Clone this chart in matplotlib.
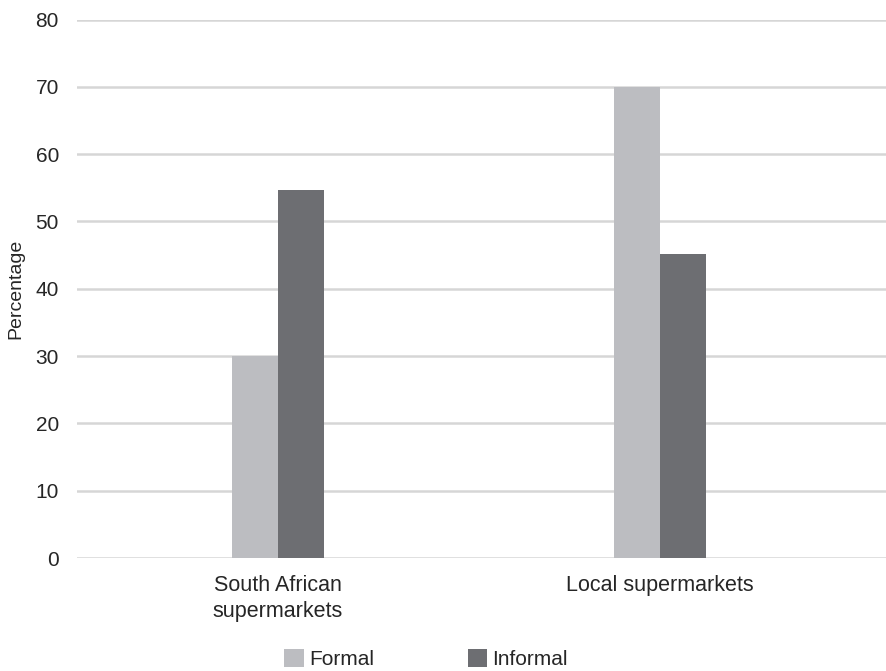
import matplotlib
matplotlib.use("Agg")
import matplotlib.pyplot as plt
import numpy as np

# data
categories = ["South African\nsupermarkets", "Local supermarkets"]
formal = [30, 70]
informal = [54.7, 45.2]
yticks = [0, 10, 20, 30, 40, 50, 60, 70, 80]

c_formal = "#bcbdc1"
c_informal = "#6d6e72"
txt = "#262626"

plt.rcParams["font.family"] = ["Liberation Sans", "DejaVu Sans"]

fig = plt.figure(figsize=(8.86, 6.71), dpi=100)
ax = fig.add_axes([77 / 886, 113 / 671, 809 / 886, 538.5 / 671])

x = np.arange(len(categories))
w = 0.12
ax.bar(x - w / 2, formal, w, color=c_formal, label="Formal", zorder=3)
ax.bar(x + w / 2, informal, w, color=c_informal, label="Informal", zorder=3)

ax.set_xlim(-0.526, 1.592)
ax.set_ylim(0, 80)
ax.set_yticks(yticks)
ax.set_xticks(x)
ax.set_xticklabels(categories, fontsize=15.5, color=txt, linespacing=1.35)
ax.tick_params(axis="x", length=0, pad=12)
ax.tick_params(axis="y", length=0, pad=13, labelsize=15, labelcolor=txt)
ax.yaxis.grid(True, color="#d6d6d6", linewidth=1.8, zorder=0)
for s in ax.spines.values():
    s.set_visible(False)

ax.set_ylabel("Percentage", fontsize=14, color=txt)
ax.yaxis.set_label_coords(-53 / 809, 0.5)

fig.legend(loc="center", bbox_to_anchor=(426 / 886, 12 / 671), ncol=2,
           frameon=False, fontsize=15, handlelength=0.95, handleheight=0.95,
           handletextpad=0.25, columnspacing=4.5, labelcolor=txt)

fig.savefig("out.png", dpi=100)
